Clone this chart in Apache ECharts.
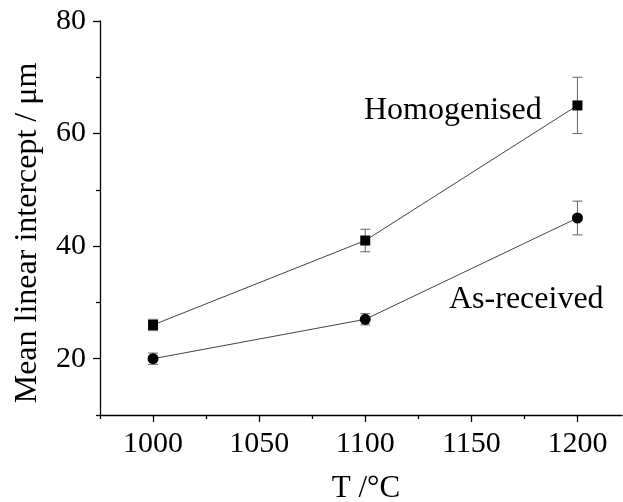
<!DOCTYPE html>
<html>
<head>
<meta charset="utf-8">
<script src="https://cdn.jsdelivr.net/npm/echarts@6/dist/echarts.min.js"></script>
<style>
  html, body { margin: 0; padding: 0; background: #fff; }
  #chart { width: 623px; height: 502px; }
</style>
</head>
<body>
<div id="chart"></div>
<script>
// Annealing temperature (°C)
const temperatures = [1000, 1100, 1200];
// Mean linear intercept (µm) and its error (±)
const homogenised = [26, 41, 65];
const homogenisedErr = [1, 2, 5];
const asReceived = [20, 27, 45];
const asReceivedErr = [1, 1, 3];

// Axis ticks
const xMajorTicks = [1000, 1050, 1100, 1150, 1200];
const xMinorTicks = [975, 1025, 1075, 1125, 1175];
const yMajorTicks = [20, 40, 60, 80];
const yMinorTicks = [10, 30, 50, 70];

const FONT = '"Liberation Serif", "DejaVu Serif", serif';
const X_MIN = 975, X_MAX = 1221, Y_MIN = 10, Y_MAX = 80;

const chart = echarts.init(document.getElementById('chart'));

function pairs(xs, ys) { return xs.map((x, i) => [x, ys[i]]); }
function errRows(xs, ys, es) { return xs.map((x, i) => [x, ys[i] - es[i], ys[i] + es[i]]); }

function errorBars(api) {
  const x = api.value(0);
  const lo = api.coord([x, api.value(1)]);
  const hi = api.coord([x, api.value(2)]);
  const cap = 5;
  const style = { stroke: '#666', lineWidth: 1, fill: null };
  return {
    type: 'group',
    children: [
      { type: 'line', shape: { x1: lo[0], y1: lo[1], x2: hi[0], y2: hi[1] }, style },
      { type: 'line', shape: { x1: lo[0] - cap, y1: lo[1], x2: lo[0] + cap, y2: lo[1] }, style },
      { type: 'line', shape: { x1: hi[0] - cap, y1: hi[1], x2: hi[0] + cap, y2: hi[1] }, style }
    ]
  };
}

const axisLine = { show: true, lineStyle: { color: '#000', width: 1.3 } };
const plain = v => String(v);

chart.setOption({
  animation: false,
  backgroundColor: '#fff',
  grid: { left: 100, right: 1, top: 21, bottom: 87, containLabel: false, outerBoundsMode: 'none' },
  xAxis: [
    {
      type: 'value', min: X_MIN, max: X_MAX,
      axisLine,
      axisTick: { show: true, inside: false, length: 7, customValues: xMajorTicks, lineStyle: { color: '#000', width: 1.3 } },
      axisLabel: { customValues: xMajorTicks, formatter: plain, fontFamily: FONT, fontSize: 30, color: '#000', margin: 14 },
      splitLine: { show: false },
      name: 'T /°C', nameLocation: 'middle', nameGap: 58,
      nameTextStyle: { fontFamily: FONT, fontSize: 31, color: '#000', padding: [0, 0, 0, 10] }
    },
    {
      type: 'value', min: X_MIN, max: X_MAX, position: 'bottom', gridIndex: 0,
      axisLine: { show: false },
      axisTick: { show: true, length: 4, customValues: xMinorTicks, lineStyle: { color: '#000', width: 1.3 } },
      axisLabel: { show: false },
      splitLine: { show: false }
    }
  ],
  yAxis: [
    {
      type: 'value', min: Y_MIN, max: Y_MAX,
      axisLine,
      axisTick: { show: true, length: 7, customValues: yMajorTicks, lineStyle: { color: '#000', width: 1.3 } },
      axisLabel: { customValues: yMajorTicks, formatter: plain, fontFamily: FONT, fontSize: 30, color: '#000', margin: 14 },
      splitLine: { show: false },
      name: 'Mean linear intercept / μm', nameLocation: 'middle', nameGap: 56,
      nameTextStyle: { fontFamily: FONT, fontSize: 32, color: '#000', padding: [0, 30, 0, 0] }
    },
    {
      type: 'value', min: Y_MIN, max: Y_MAX, position: 'left',
      axisLine: { show: false },
      axisTick: { show: true, length: 4, customValues: yMinorTicks, lineStyle: { color: '#000', width: 1.3 } },
      axisLabel: { show: false },
      splitLine: { show: false }
    }
  ],
  series: [
    {
      name: 'Homogenised err', type: 'custom', xAxisIndex: 0, yAxisIndex: 0,
      renderItem: (params, api) => errorBars(api),
      data: errRows(temperatures, homogenised, homogenisedErr), z: 2
    },
    {
      name: 'As-received err', type: 'custom', xAxisIndex: 0, yAxisIndex: 0,
      renderItem: (params, api) => errorBars(api),
      data: errRows(temperatures, asReceived, asReceivedErr), z: 2
    },
    {
      name: 'Homogenised', type: 'line', xAxisIndex: 0, yAxisIndex: 0,
      data: pairs(temperatures, homogenised),
      symbol: 'rect', symbolSize: 10,
      lineStyle: { color: '#444', width: 1 },
      itemStyle: { color: '#000' }, z: 3
    },
    {
      name: 'As-received', type: 'line', xAxisIndex: 0, yAxisIndex: 0,
      data: pairs(temperatures, asReceived),
      symbol: 'circle', symbolSize: 11,
      lineStyle: { color: '#444', width: 1 },
      itemStyle: { color: '#000' }, z: 3
    }
  ],
  graphic: [
    { type: 'text', left: 364, top: 95, style: { text: 'Homogenised', font: '32px ' + FONT, fill: '#000' } },
    { type: 'text', left: 449, top: 284, style: { text: 'As-received', font: '32px ' + FONT, fill: '#000' } }
  ]
});
</script>
</body>
</html>
